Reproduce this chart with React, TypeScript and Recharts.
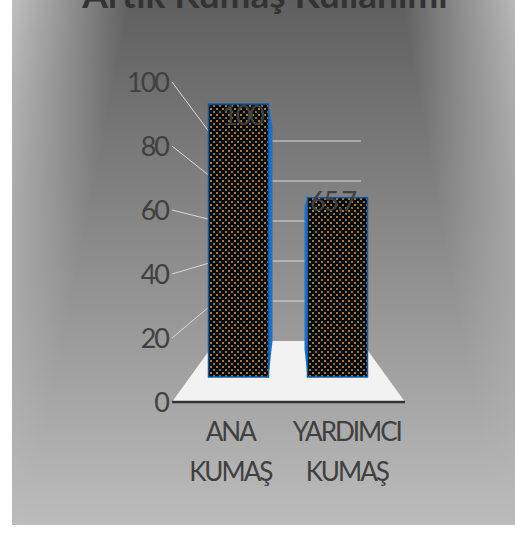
import React from 'react'
import {
  BarChart,
  Bar,
  XAxis,
  YAxis,
  LabelList,
  ReferenceArea,
  ReferenceLine,
} from 'recharts'

const TITLE = 'Artık Kumaş Kullanımı'
const categories = ['ANA KUMAŞ', 'YARDIMCI KUMAŞ']
const values = [100, 65.7]
const yTicks = [0, 20, 40, 60, 80, 100]
const wallTicks = [20, 40, 60, 80, 100]

const data = categories.map((name, i) => ({ name, value: values[i] }))

const FONT = 'Lato, Carlito, sans-serif'
const TEXT = '#404040'
const WALL_LINE = '#d9d9d9'
const FLOOR_INSET = 44
const FLOOR_TOP = 341
const PLOT_BOTTOM = 402
// the back wall is squeezed compared to the front axis (3d look)
const WALL_RATIO = 0.625

const LABEL_DX = [4, -5]
const LABEL_DY = [21, 13]

const Backdrop = () => (
  <svg width={515} height={538} style={{ position: 'absolute', left: 0, top: 0 }}>
    <defs>
      <linearGradient id="base" x1="0" y1="0" x2="0" y2="1">
        <stop offset="0" stopColor="#5f5f5f" />
        <stop offset="1" stopColor="#bcbcbc" />
      </linearGradient>
      <linearGradient id="sideL" gradientUnits="userSpaceOnUse" x1="12" y1="0" x2="125.6" y2="22.3">
        <stop offset="0" stopColor="#bfbfbf" />
        <stop offset="1" stopColor="#bfbfbf" stopOpacity="0" />
      </linearGradient>
      <linearGradient id="sideR" gradientUnits="userSpaceOnUse" x1="515" y1="0" x2="404.5" y2="20">
        <stop offset="0" stopColor="#b8b8b8" />
        <stop offset="1" stopColor="#b8b8b8" stopOpacity="0" />
      </linearGradient>
    </defs>
    <rect x={12} y={0} width={503} height={525} fill="url(#base)" />
    <polygon points="12,0 130,0 30,525 12,525" fill="url(#sideL)" />
    <polygon points="515,0 402,0 497,525 515,525" fill="url(#sideR)" />
  </svg>
)

const Floor = ({ x, y, width, height }: any) => (
  <polygon
    points={`${x},${y + height} ${x + width},${y + height} ${x + width - FLOOR_INSET},${y} ${x + FLOOR_INSET},${y}`}
    fill="#f2f2f2"
  />
)

// line from the front tick to the back corner, then along the back wall
const WallLine = ({ x1, x2, y1 }: any) => {
  const wy = FLOOR_TOP - (PLOT_BOTTOM - y1) * WALL_RATIO
  return (
    <polyline
      points={`${x1},${y1} ${x1 + FLOOR_INSET},${wy} ${x2 - FLOOR_INSET},${wy}`}
      fill="none"
      stroke={WALL_LINE}
      strokeWidth={1}
    />
  )
}

const Column = ({ x, y, width, height, index }: any) => {
  const bottom = y + height
  const side =
    index === 0
      ? `${x + width},${y} ${x + width + 4},${y + 23} ${x + width + 4},${bottom - 36} ${x + width},${bottom}`
      : `${x},${y} ${x - 3},${y + 8} ${x - 3},${bottom - 28} ${x},${bottom}`
  return (
    <g>
      <polygon points={side} fill="#1f6fc4" />
      <rect x={x} y={y} width={width} height={height} fill="url(#dots)" stroke="#0b5cad" strokeWidth={1.5} />
    </g>
  )
}

const BarValue = ({ x, y, width, value, index }: any) => (
  <text
    x={x + width / 2 + LABEL_DX[index]}
    y={y + LABEL_DY[index]}
    textAnchor="middle"
    fontFamily={FONT}
    fontSize={27}
    letterSpacing={-2}
    fill={TEXT}
  >
    {String(value).replace('.', ',')}
  </text>
)

const CategoryTick = ({ x, y, payload }: any) => (
  <text x={x} y={y} textAnchor="middle" fontFamily={FONT} fontSize={26} letterSpacing={-2} fill={TEXT}>
    {String(payload.value)
      .split(' ')
      .map((word: string, i: number) => (
        <tspan key={word} x={x} y={y + 31 + i * 40}>
          {word}
        </tspan>
      ))}
  </text>
)

const App = () => (
  <div style={{ position: 'absolute', left: 0, top: 0, width: 515, height: 538, overflow: 'hidden' }}>
    <Backdrop />
    <div style={{ position: 'absolute', left: 0, top: 0 }}>
      <BarChart
        width={515}
        height={538}
        data={data}
        margin={{ top: 82, right: 110, bottom: 46, left: 112 }}
      >
        <defs>
          <pattern id="dots" width={6} height={6} patternUnits="userSpaceOnUse">
            <rect width={6} height={6} fill="#050505" />
            <rect x={0} y={0} width={2} height={2} fill="#a87a2c" />
            <rect x={3} y={3} width={2} height={2} fill="#7d7a33" />
          </pattern>
        </defs>
        <text
          x={265}
          y={8}
          textAnchor="middle"
          fontFamily={FONT}
          fontSize={37}
          fontWeight={700}
          fill="#333333"
        >
          {TITLE}
        </text>
        <XAxis
          xAxisId="labels"
          dataKey="name"
          height={90}
          interval={0}
          tickLine={false}
          axisLine={{ stroke: '#333333', strokeWidth: 2.5 }}
          tick={<CategoryTick />}
        />
        <XAxis xAxisId="bars" dataKey="name" hide height={0} padding={{ left: 16.5, right: 18.5 }} />
        <YAxis
          yAxisId="ticks"
          width={60}
          domain={[0, 100]}
          ticks={yTicks}
          tickLine={false}
          axisLine={false}
          tickMargin={-2}
          tick={{ fontFamily: FONT, fontSize: 27, letterSpacing: -2, fill: TEXT }}
        />
        {/* column heights sit on the floor's back part, so they get their own scale */}
        <YAxis yAxisId="bars" hide width={0} domain={[-9.16, 108.06]} />
        <ReferenceArea
          xAxisId="labels"
          yAxisId="ticks"
          y1={0}
          y2={19.06}
          shape={<Floor />}
          ifOverflow="visible"
          zIndex={100}
        />
        {wallTicks.map((t) => (
          <ReferenceLine
            key={t}
            xAxisId="labels"
            yAxisId="ticks"
            y={t}
            shape={<WallLine />}
            ifOverflow="visible"
            zIndex={100}
          />
        ))}
        {/* empty series so the front axis has a domain to draw from */}
        <Bar xAxisId="labels" yAxisId="ticks" dataKey="value" fill="none" isAnimationActive={false} />
        <Bar
          xAxisId="bars"
          yAxisId="bars"
          dataKey="value"
          barSize={60}
          shape={<Column />}
          isAnimationActive={false}
        >
          <LabelList dataKey="value" content={<BarValue />} />
        </Bar>
      </BarChart>
    </div>
  </div>
)

export default App
